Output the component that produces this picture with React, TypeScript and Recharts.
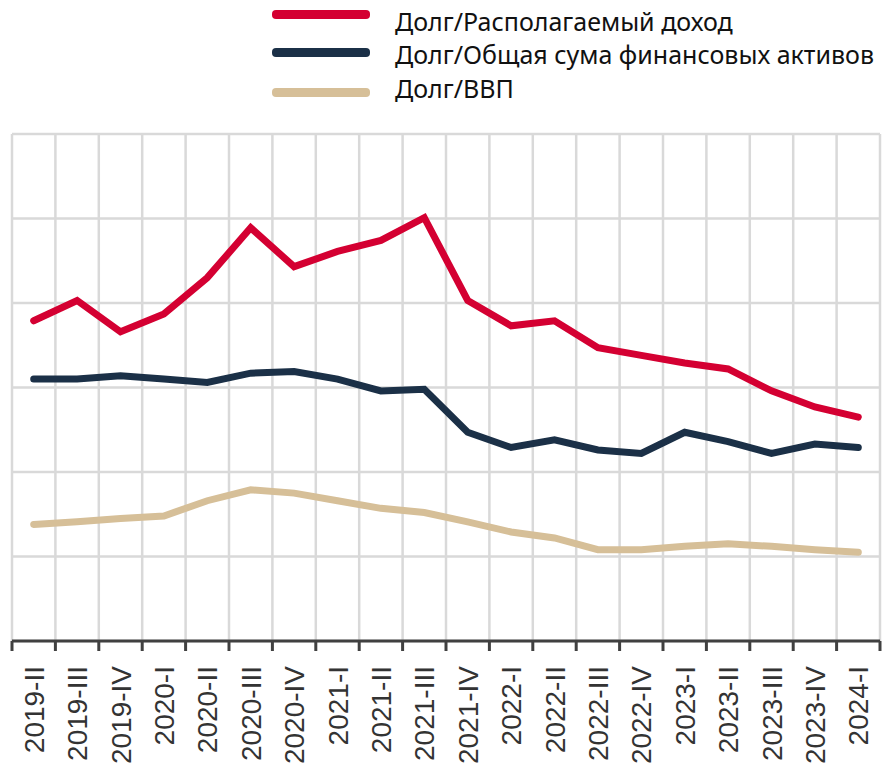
import React from 'react';
import { LineChart, Line, XAxis, YAxis, CartesianGrid } from 'recharts';

const quarters = [
  '2019-II', '2019-III', '2019-IV', '2020-I', '2020-II', '2020-III', '2020-IV',
  '2021-I', '2021-II', '2021-III', '2021-IV', '2022-I', '2022-II', '2022-III',
  '2022-IV', '2023-I', '2023-II', '2023-III', '2023-IV', '2024-I',
];

// Долг/Располагаемый доход
const debtToIncome = [
  37.9, 40.3, 36.6, 38.7, 43.0, 48.9, 44.3, 46.1, 47.4, 50.1,
  40.3, 37.3, 37.9, 34.7, 33.8, 32.9, 32.2, 29.6, 27.7, 26.5,
];
// Долг/Общая сума финансовых активов
const debtToAssets = [
  31.0, 31.0, 31.4, 31.0, 30.6, 31.7, 31.9, 31.0, 29.6, 29.8,
  24.7, 22.9, 23.8, 22.6, 22.2, 24.7, 23.6, 22.2, 23.3, 22.9,
];
// Долг/ВВП
const debtToGdp = [
  13.8, 14.1, 14.5, 14.8, 16.6, 17.9, 17.5, 16.6, 15.7, 15.2,
  14.1, 12.9, 12.2, 10.8, 10.8, 11.2, 11.5, 11.2, 10.8, 10.5,
];

const yTicks = [0, 10, 20, 30, 40, 50, 60];

const series = [
  { key: 'income', name: 'Долг/Располагаемый доход', color: '#d40032' },
  { key: 'assets', name: 'Долг/Общая сума финансовых активов', color: '#1b3047' },
  { key: 'gdp', name: 'Долг/ВВП', color: '#d6bf98' },
];

const data = quarters.map((q, i) => ({
  i,
  q,
  income: debtToIncome[i],
  assets: debtToAssets[i],
  gdp: debtToGdp[i],
}));

const boundaries = [...quarters.map((_, i) => i - 0.5), quarters.length - 0.5];
const centers = quarters.map((_, i) => i);

const EmptyTick = () => <g />;

const QuarterTick = (props: any) => {
  const { x, y, payload } = props;
  return (
    <text
      x={x}
      y={y}
      transform={`rotate(-90, ${x}, ${y})`}
      textAnchor="end"
      dy="0.36em"
      fontSize={28}
      fill="#333"
      fontFamily="'Liberation Sans', Arial, sans-serif"
    >
      {quarters[payload.value]}
    </text>
  );
};

// legend sits above the plot, drawn as plain html
const swatchTops = [10, 48, 88];
const labelCenters = [21, 54, 88];

const LegendBox = () => (
  <div
    style={{
      position: 'absolute',
      left: 0,
      top: 0,
      width: 888,
      height: 120,
      fontFamily: "'Noto Sans', sans-serif",
      fontSize: 25,
      color: '#111',
    }}
  >
    {series.map((s, k) => (
      <React.Fragment key={s.key}>
        <div
          style={{
            position: 'absolute',
            left: 272,
            top: swatchTops[k],
            width: 98,
            height: 9,
            borderRadius: 4,
            background: s.color,
          }}
        />
        <div style={{ position: 'absolute', left: 395, top: labelCenters[k] - 17, lineHeight: '34px', whiteSpace: 'nowrap' }}>
          {s.name}
        </div>
      </React.Fragment>
    ))}
  </div>
);

export default function App() {
  return (
    <div style={{ position: 'absolute', left: 0, top: 0, width: 888, height: 768 }}>
      <LegendBox />
      <LineChart
        width={888}
        height={768}
        data={data}
        margin={{ top: 134, right: 8, bottom: 0, left: 12 }}
      >
        <CartesianGrid stroke="#d9d9d9" strokeWidth={2.5} />
        <XAxis
          dataKey="i"
          type="number"
          domain={[-0.5, quarters.length - 0.5]}
          ticks={boundaries}
          interval={0}
          tick={EmptyTick}
          tickSize={10}
          height={10}
          axisLine={{ stroke: '#404040', strokeWidth: 3 }}
          tickLine={{ stroke: '#404040', strokeWidth: 3 }}
        />
        <XAxis
          xAxisId="lbl"
          dataKey="i"
          type="number"
          domain={[-0.5, quarters.length - 0.5]}
          ticks={centers}
          interval={0}
          axisLine={false}
          tickLine={false}
          tickSize={0}
          tickMargin={15}
          height={117}
          tick={<QuarterTick />}
        />
        <YAxis
          domain={[0, 60]}
          ticks={yTicks}
          interval={0}
          width={0}
          tick={EmptyTick}
          axisLine={false}
          tickLine={false}
        />
        {series.map((s) => (
          <Line
            key={s.key}
            dataKey={s.key}
            name={s.name}
            stroke={s.color}
            strokeWidth={7}
            dot={false}
            activeDot={false}
            strokeLinecap="round"
            isAnimationActive={false}
          />
        ))}
      </LineChart>
    </div>
  );
}
